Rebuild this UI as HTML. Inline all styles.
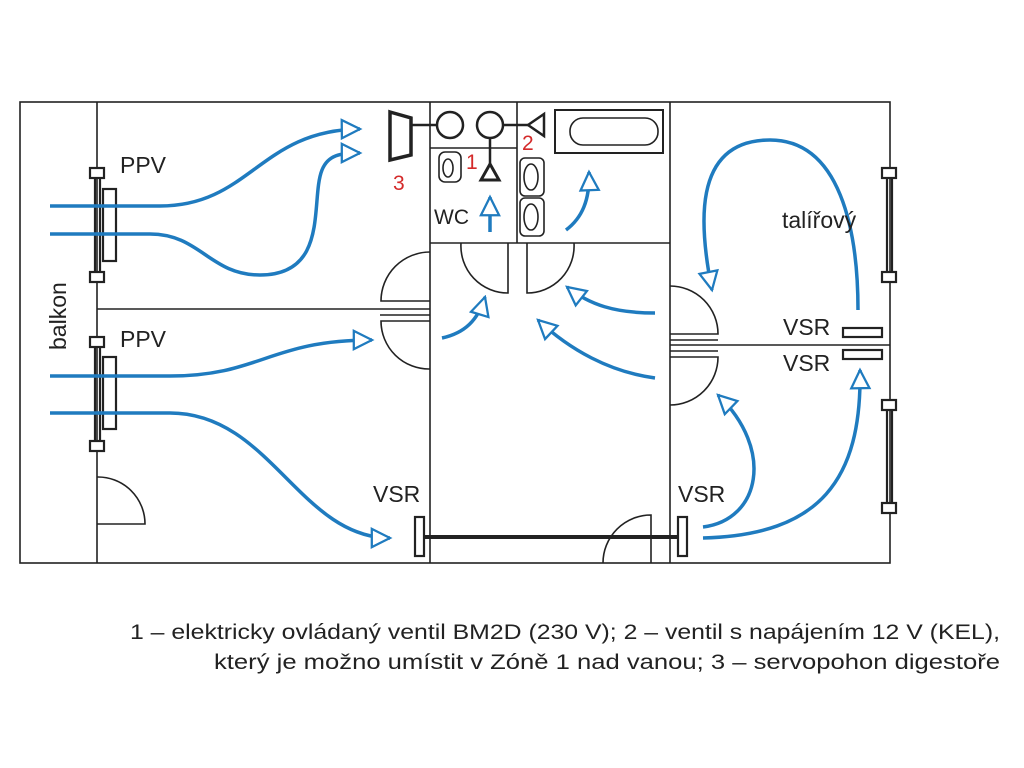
<!DOCTYPE html>
<html><head><meta charset="utf-8"><style>body{margin:0;background:#fff}svg{display:block}</style></head><body>
<svg width="1024" height="768" viewBox="0 0 1024 768" xmlns="http://www.w3.org/2000/svg" font-family="Liberation Sans, sans-serif">
<defs>
<marker id="a" viewBox="0 0 20 20" refX="18" refY="10" markerWidth="6.5" markerHeight="6.5" orient="auto" markerUnits="strokeWidth">
<path d="M2,2 L18,10 L2,18 Z" fill="#fff" stroke="#1f7bbf" stroke-width="2"/></marker>
</defs>
<g fill="none" stroke="#222" stroke-width="1.6">
<rect x="20" y="102" width="870" height="461"/>
<line x1="97" y1="102" x2="97" y2="563"/>
<line x1="430" y1="102" x2="430" y2="563"/>
<line x1="670" y1="102" x2="670" y2="563"/>
<line x1="517" y1="102" x2="517" y2="243"/>
<line x1="430" y1="148" x2="517" y2="148"/>
<line x1="430" y1="243" x2="670" y2="243"/>
<line x1="97" y1="309" x2="430" y2="309"/>
<line x1="380" y1="315" x2="430" y2="315"/>
<line x1="670" y1="345" x2="890" y2="345"/>
<line x1="670" y1="340" x2="718" y2="340"/>
<line x1="670" y1="351" x2="718" y2="351"/>
<path d="M430,301 H381 A49,49 0 0 1 430,252"/>
<path d="M430,321 H381 A48,48 0 0 0 430,369"/>
<path d="M508,243 V293 A47,47 0 0 1 461,243"/>
<path d="M527,243 V293 A47,47 0 0 0 574,243"/>
<path d="M670,334 H718 A48,48 0 0 0 670,286"/>
<path d="M670,357 H718 A48,48 0 0 1 670,405"/>
<path d="M97,524 H145 A47,47 0 0 0 97,477"/>
<path d="M651,563 V515 A48,48 0 0 0 603,563"/>
</g>
<g fill="#fff" stroke="#222" stroke-width="2.2">
<line x1="95" y1="173" x2="95" y2="277"/><line x1="100" y1="173" x2="100" y2="277"/>
<rect x="103" y="189" width="13" height="72"/>
<rect x="90" y="168" width="14" height="10"/><rect x="90" y="272" width="14" height="10"/>
<line x1="95" y1="342" x2="95" y2="446"/><line x1="100" y1="342" x2="100" y2="446"/>
<rect x="103" y="357" width="13" height="72"/>
<rect x="90" y="337" width="14" height="10"/><rect x="90" y="441" width="14" height="10"/>
<line x1="887" y1="173" x2="887" y2="277"/><line x1="892" y1="173" x2="892" y2="277"/>
<rect x="882" y="168" width="14" height="10"/><rect x="882" y="272" width="14" height="10"/>
<line x1="887" y1="405" x2="887" y2="508"/><line x1="892" y1="405" x2="892" y2="508"/>
<rect x="882" y="400" width="14" height="10"/><rect x="882" y="503" width="14" height="10"/>
<rect x="843" y="328" width="39" height="9"/><rect x="843" y="350" width="39" height="9"/>
<line x1="420" y1="537" x2="682" y2="537" stroke-width="4"/>
<rect x="415" y="517" width="9" height="39"/><rect x="678" y="517" width="9" height="39"/>
</g>
<g fill="#fff" stroke="#222" stroke-width="2.5">
<path d="M390,112 L411,118 L411,155 L390,160 Z" stroke-width="3.5"/>
<line x1="411" y1="125" x2="437" y2="125"/>
<circle cx="450" cy="125" r="13"/>
<circle cx="490" cy="125" r="13"/>
<line x1="503" y1="125" x2="528" y2="125"/>
<path d="M528,125 L544,114 L544,136 Z"/>
<line x1="490" y1="138" x2="490" y2="166"/>
<path d="M490,164 L499,180 L481,180 Z" stroke-width="3"/>
<rect x="555" y="110" width="108" height="43" stroke-width="2"/>
<rect x="570" y="118" width="88" height="27" rx="13" stroke-width="1.6"/>
<rect x="439" y="152" width="22" height="30" rx="6" stroke-width="1.6"/>
<ellipse cx="448" cy="168" rx="5" ry="9" stroke-width="1.6"/>
<rect x="520" y="158" width="24" height="38" rx="5" stroke-width="1.6"/>
<ellipse cx="531" cy="177" rx="7" ry="13" stroke-width="1.6"/>
<rect x="520" y="198" width="24" height="38" rx="5" stroke-width="1.6"/>
<ellipse cx="531" cy="217" rx="7" ry="13" stroke-width="1.6"/>
</g>
<g fill="none" stroke="#1f7bbf" stroke-width="3.5" marker-end="url(#a)">
<path d="M50,206 H160 C250,206 260,130 360,129"/>
<path d="M50,234 H150 C200,234 210,275 260,275 C330,275 310,200 322,170 C328,155 340,153 360,153"/>
<path d="M50,376 H170 C260,376 270,340 372,340"/>
<path d="M50,413 H170 C270,413 300,538 390,538"/>
<path d="M490,232 V197"/>
<path d="M566,230 C582,218 590,200 589,172"/>
<path d="M442,338 C465,333 478,320 485,297"/>
<path d="M655,313 C615,313 590,305 567,287"/>
<path d="M655,378 C610,372 570,350 538,320"/>
<path d="M858,310 C858,230 840,140 770,140 C690,140 700,230 712,290"/>
<path d="M703,527 C760,520 775,450 718,395"/>
<path d="M703,538 C820,535 862,480 860,370"/>
</g>
<g fill="#222" font-size="23">
<text x="120" y="173">PPV</text>
<text x="120" y="347">PPV</text>
<text x="66" y="350" transform="rotate(-90 66 350)">balkon</text>
<text x="373" y="502">VSR</text>
<text x="678" y="502">VSR</text>
<text x="782" y="228">talířový</text>
<text x="783" y="335">VSR</text>
<text x="783" y="371">VSR</text>
<text x="434" y="224" font-size="21">WC</text>
</g>
<g fill="#d42a2a" font-size="21">
<text x="393" y="190">3</text>
<text x="466" y="169">1</text>
<text x="522" y="150">2</text>
</g>
<g fill="#222" font-size="21">
<text x="130" y="639" textLength="870" lengthAdjust="spacingAndGlyphs">1 – elektricky ovládaný ventil BM2D (230 V); 2 – ventil s napájením 12 V (KEL),</text>
<text x="214" y="669" textLength="786" lengthAdjust="spacingAndGlyphs">který je možno umístit v Zóně 1 nad vanou; 3 – servopohon digestoře</text>
</g>
</svg>
</body></html>
